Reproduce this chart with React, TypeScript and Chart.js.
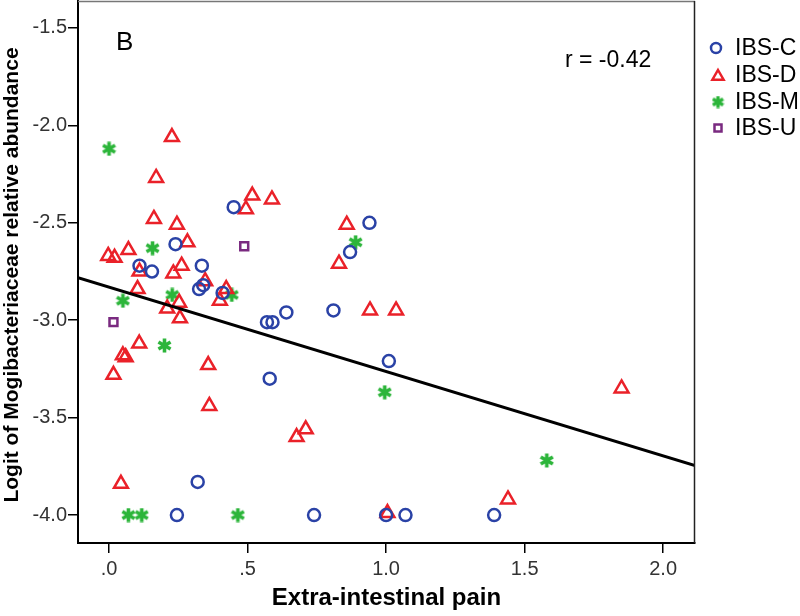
import React, { useEffect, useRef } from 'react';
import { Chart, registerables } from 'chart.js';

Chart.register(...registerables);

// ---- data ----
const xTickValues = [0, 0.5, 1.0, 1.5, 2.0];
const xTickLabels = ['.0', '.5', '1.0', '1.5', '2.0'];
const yTickValues = [-1.5, -2.0, -2.5, -3.0, -3.5, -4.0];
const yTickLabels = ['-1.5', '-2.0', '-2.5', '-3.0', '-3.5', '-4.0'];

const seriesNames = ['IBS-C', 'IBS-D', 'IBS-M', 'IBS-U'];

const ibsC = [
  [0.45, -2.42], [0.94, -2.50], [0.24, -2.61], [0.87, -2.65], [0.11, -2.72],
  [0.155, -2.75], [0.335, -2.72], [0.325, -2.84], [0.34, -2.82], [0.41, -2.86],
  [0.57, -3.01], [0.59, -3.01], [0.64, -2.96], [0.81, -2.95], [1.01, -3.21],
  [0.58, -3.30], [0.32, -3.83], [0.245, -4.0], [0.74, -4.0], [1.0, -4.0],
  [1.07, -4.0], [1.39, -4.0],
];

const ibsD = [
  [0.227, -2.06], [0.17, -2.27], [0.517, -2.36], [0.588, -2.38], [0.494, -2.43],
  [0.162, -2.48], [0.245, -2.51], [0.858, -2.51], [0.283, -2.60], [0.07, -2.64],
  [-0.003, -2.67], [0.02, -2.68], [0.83, -2.71], [0.262, -2.72], [0.11, -2.75],
  [0.232, -2.76], [0.347, -2.80], [0.103, -2.84], [0.423, -2.84], [0.40, -2.90],
  [0.253, -2.91], [0.21, -2.94], [0.942, -2.95], [1.036, -2.95], [0.256, -2.99],
  [0.109, -3.12], [0.05, -3.18], [0.06, -3.19], [0.016, -3.28], [0.358, -3.23],
  [0.362, -3.44], [0.677, -3.60], [0.71, -3.56], [0.043, -3.84], [1.005, -3.99],
  [1.85, -3.35], [1.44, -3.92],
];

const ibsM = [
  [0.0, -2.12], [0.157, -2.63], [0.89, -2.60], [0.228, -2.87], [0.443, -2.87],
  [0.05, -2.90], [0.2, -3.13], [0.995, -3.37], [1.58, -3.72], [0.07, -4.0],
  [0.118, -4.0], [0.465, -4.0],
];

const ibsU = [
  [0.488, -2.62], [0.016, -3.01],
];

const fitLine = [
  [-0.112, -2.782], [2.115, -3.746],
];

const rLabel = 'r = -0.42';
const panelLabel = 'B';
const xTitle = 'Extra-intestinal pain';
const yTitle = 'Logit of Mogibacteriaceae relative abundance';

// ---- styles ----
const BLUE = '#2a42a6';
const RED = '#ea2129';
const GREEN = '#2cb53a';
const PURPLE = '#7a2a80';
const FONT = '"Liberation Sans", Arial, Helvetica, sans-serif';

function makeStar(size: number, color: string, lw: number) {
  const c = document.createElement('canvas');
  c.width = size;
  c.height = size;
  const g = c.getContext('2d')!;
  g.strokeStyle = color;
  g.lineWidth = lw;
  g.lineCap = 'butt';
  const r = size / 2 - 0.5;
  const cx = size / 2;
  const cy = size / 2;
  for (let i = 0; i < 3; i++) {
    const a = (Math.PI / 3) * i + Math.PI / 2;
    g.beginPath();
    g.moveTo(cx + Math.cos(a) * r, cy + Math.sin(a) * r);
    g.lineTo(cx - Math.cos(a) * r, cy - Math.sin(a) * r);
    g.stroke();
  }
  g.fillStyle = color;
  g.beginPath();
  g.arc(cx, cy, lw * 0.9, 0, Math.PI * 2);
  g.fill();
  return c;
}

const toPts = (arr: number[][]) => arr.map(([x, y]) => ({ x, y }));

export default function App() {
  const ref = useRef<HTMLCanvasElement | null>(null);

  useEffect(() => {
    const canvas = ref.current!;
    const star = makeStar(15, GREEN, 3.6);
    const starSmall = makeStar(13, GREEN, 3.4);

    const overlay = {
      id: 'overlay',
      afterDraw(chart: any) {
        const { ctx, chartArea } = chart;
        const { left, top, right, bottom } = chartArea;
        ctx.save();
        // frame top and right
        ctx.strokeStyle = '#777';
        ctx.lineWidth = 1.5;
        ctx.beginPath();
        ctx.moveTo(left, top + 0.5);
        ctx.lineTo(right, top + 0.5);
        ctx.stroke();
        ctx.strokeStyle = '#222';
        ctx.lineWidth = 1.5;
        ctx.beginPath();
        ctx.moveTo(right - 0.5, top);
        ctx.lineTo(right - 0.5, bottom);
        ctx.stroke();

        // panel label and r
        ctx.fillStyle = '#000';
        ctx.textBaseline = 'middle';
        ctx.textAlign = 'left';
        ctx.font = `26px ${FONT}`;
        ctx.fillText(panelLabel, 116, 43);
        ctx.font = `23px ${FONT}`;
        ctx.fillText(rLabel, 565, 61);

        // axis titles
        ctx.font = `bold 24px ${FONT}`;
        ctx.textAlign = 'center';
        ctx.fillText(xTitle, (left + right) / 2, 598);
        ctx.save();
        ctx.translate(12, 275);
        ctx.rotate(-Math.PI / 2);
        ctx.font = `bold 21px ${FONT}`;
        ctx.fillText(yTitle, 0, 0);
        ctx.restore();

        // legend
        const lx = 718;
        const rows = [48, 75, 102, 128];
        ctx.font = `23px ${FONT}`;
        ctx.textAlign = 'left';
        ctx.fillStyle = '#000';
        // circle
        ctx.lineWidth = 2.5;
        ctx.strokeStyle = BLUE;
        ctx.beginPath();
        ctx.arc(lx - 2, rows[0], 5, 0, Math.PI * 2);
        ctx.stroke();
        // triangle
        ctx.strokeStyle = RED;
        const tr = 6.5;
        ctx.beginPath();
        ctx.moveTo(lx, rows[1] - tr + 1.5);
        ctx.lineTo(lx + tr * 0.866, rows[1] + tr / 2 + 1.5);
        ctx.lineTo(lx - tr * 0.866, rows[1] + tr / 2 + 1.5);
        ctx.closePath();
        ctx.stroke();
        // star
        ctx.drawImage(starSmall, lx - 6.5, rows[2] - 6.5);
        // square
        ctx.strokeStyle = PURPLE;
        ctx.lineWidth = 2.5;
        ctx.strokeRect(lx - 3.5, rows[3] - 3.5, 7, 7);
        seriesNames.forEach((n, i) => {
          ctx.fillText(n, 735, rows[i] + 1);
        });
        ctx.restore();
      },
    };

    const chart = new Chart(canvas, {
      type: 'scatter',
      data: {
        datasets: [
          {
            label: 'fit',
            data: toPts(fitLine),
            showLine: true,
            borderColor: '#000',
            borderWidth: 3,
            pointRadius: 0,
            order: 0,
          } as any,
          {
            label: seriesNames[0],
            data: toPts(ibsC),
            pointStyle: 'circle',
            pointRadius: 6,
            borderColor: BLUE,
            backgroundColor: 'rgba(0,0,0,0)',
            pointBorderWidth: 2.5,
            order: 1,
          },
          {
            label: seriesNames[1],
            data: toPts(ibsD),
            pointStyle: 'triangle',
            pointRadius: 8,
            borderColor: RED,
            backgroundColor: 'rgba(0,0,0,0)',
            pointBorderWidth: 2.5,
            order: 1,
          },
          {
            label: seriesNames[2],
            data: toPts(ibsM),
            pointStyle: star as any,
            pointRadius: 7,
            borderColor: GREEN,
            backgroundColor: GREEN,
            order: 1,
          },
          {
            label: seriesNames[3],
            data: toPts(ibsU),
            pointStyle: 'rect',
            pointRadius: 5.6,
            borderColor: PURPLE,
            backgroundColor: 'rgba(0,0,0,0)',
            pointBorderWidth: 2.5,
            order: 1,
          },
        ],
      },
      options: {
        animation: false,
        responsive: false,
        events: [],
        layout: { autoPadding: false, padding: { left: 0, top: 1, right: 105, bottom: 0 } },
        plugins: {
          legend: { display: false },
          tooltip: { enabled: false },
          title: { display: false },
        },
        scales: {
          x: {
            type: 'linear',
            min: -0.112,
            max: 2.115,
            afterFit: (s: any) => {
              s.height = 73;
              s.paddingLeft = 0; s.paddingRight = 0; s.paddingTop = 0; s.paddingBottom = 0;
            },
            afterBuildTicks: (s: any) => { s.ticks = xTickValues.map((v) => ({ value: v })); },
            border: { display: true, color: '#000', width: 2 },
            grid: { drawOnChartArea: false, drawTicks: true, tickLength: 10, color: '#000', lineWidth: 1.5 },
            ticks: {
              padding: 4,
              color: '#333',
              font: { family: FONT, size: 20 },
              callback: (v: any) => {
                const i = xTickValues.findIndex((t) => Math.abs(t - v) < 1e-6);
                return i >= 0 ? xTickLabels[i] : '';
              },
            },
          },
          y: {
            type: 'linear',
            min: -4.1436,
            max: -1.3615,
            afterFit: (s: any) => {
              s.width = 78;
              s.paddingLeft = 0; s.paddingRight = 0; s.paddingTop = 0; s.paddingBottom = 0;
            },
            afterBuildTicks: (s: any) => { s.ticks = yTickValues.map((v) => ({ value: v })); },
            border: { display: true, color: '#000', width: 2 },
            grid: { drawOnChartArea: false, drawTicks: true, tickLength: 10, color: '#000', lineWidth: 1.5 },
            ticks: {
              padding: 1,
              color: '#333',
              font: { family: FONT, size: 20 },
              callback: (v: any) => {
                const i = yTickValues.findIndex((t) => Math.abs(t - v) < 1e-6);
                return i >= 0 ? yTickLabels[i] : '';
              },
            },
          },
        },
      },
      plugins: [overlay],
    } as any);

    return () => chart.destroy();
  }, []);

  return (
    <div style={{ position: 'fixed', left: 0, top: 0, width: 800, height: 616, background: '#fff' }}>
      <canvas ref={ref} width={800} height={616} style={{ width: 800, height: 616, display: 'block' }} />
    </div>
  );
}
